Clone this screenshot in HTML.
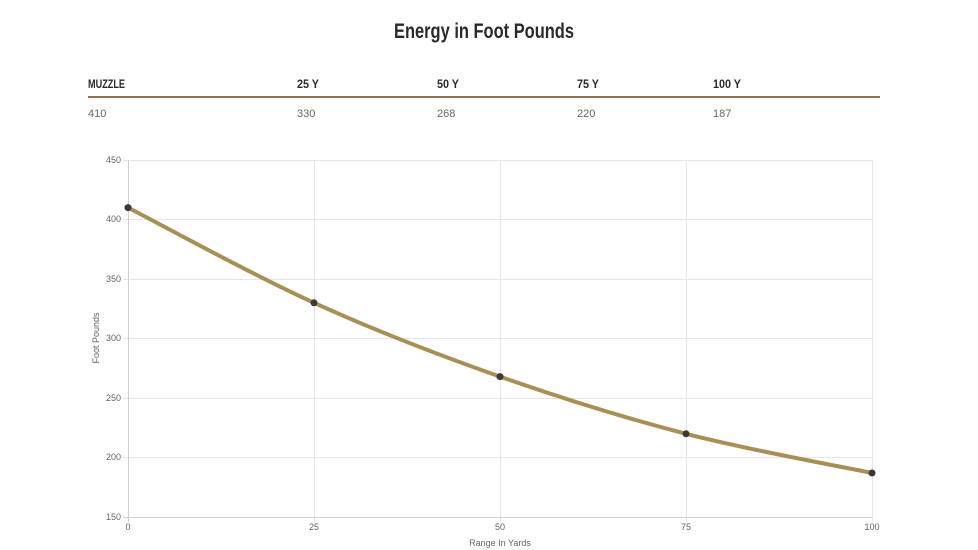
<!DOCTYPE html>
<html><head><meta charset="utf-8"><style>
html,body{margin:0;padding:0;background:#fff;}
svg{display:block;font-family:"Liberation Sans",sans-serif;}
</style></head><body>
<svg width="978" height="550" viewBox="0 0 978 550" xmlns="http://www.w3.org/2000/svg">
<text x="484" y="38" text-anchor="middle" font-size="21" font-weight="bold" fill="#2a2a2a" textLength="180" lengthAdjust="spacingAndGlyphs" font-family="Liberation Sans Narrow, Liberation Sans, sans-serif">Energy in Foot Pounds</text>
<g font-size="12" font-weight="bold" fill="#2a2a2a" font-family="Liberation Sans Narrow, Liberation Sans, sans-serif">
<text x="88" y="88" textLength="37" lengthAdjust="spacingAndGlyphs">MUZZLE</text>
<text x="297" y="88" textLength="22" lengthAdjust="spacingAndGlyphs">25 Y</text>
<text x="437" y="88" textLength="22" lengthAdjust="spacingAndGlyphs">50 Y</text>
<text x="577" y="88" textLength="22" lengthAdjust="spacingAndGlyphs">75 Y</text>
<text x="713" y="88" textLength="28" lengthAdjust="spacingAndGlyphs">100 Y</text>
</g>
<rect x="88" y="96" width="792" height="2" fill="#8b7550"/>
<g font-size="11" fill="#666">
<text x="88" y="117">410</text>
<text x="297" y="117">330</text>
<text x="437" y="117">268</text>
<text x="577" y="117">220</text>
<text x="713" y="117">187</text>
</g>
<g stroke="#e6e6e6" stroke-width="1">
<line x1="123" y1="160.5" x2="872" y2="160.5"/>
<line x1="123" y1="219.5" x2="872" y2="219.5"/>
<line x1="123" y1="279.5" x2="872" y2="279.5"/>
<line x1="123" y1="338.5" x2="872" y2="338.5"/>
<line x1="123" y1="398.5" x2="872" y2="398.5"/>
<line x1="123" y1="457.5" x2="872" y2="457.5"/>
<line x1="314.5" y1="160" x2="314.5" y2="522"/>
<line x1="500.5" y1="160" x2="500.5" y2="522"/>
<line x1="686.5" y1="160" x2="686.5" y2="522"/>
<line x1="872.5" y1="160" x2="872.5" y2="522"/>
</g>
<g stroke="#d0d0d0" stroke-width="1">
<line x1="128.5" y1="160" x2="128.5" y2="522"/>
<line x1="123" y1="517.5" x2="872" y2="517.5"/>
</g>
<g font-size="9" fill="#666" text-anchor="end">
<text x="121" y="163">450</text>
<text x="121" y="222">400</text>
<text x="121" y="282">350</text>
<text x="121" y="341">300</text>
<text x="121" y="401">250</text>
<text x="121" y="460">200</text>
<text x="121" y="520">150</text>
</g>
<g font-size="9" fill="#666" text-anchor="middle">
<text x="128" y="530">0</text>
<text x="314" y="530">25</text>
<text x="500" y="530">50</text>
<text x="686" y="530">75</text>
<text x="872" y="530">100</text>
<text x="500" y="546">Range In Yards</text>
</g>
<text transform="translate(99,338) rotate(-90)" font-size="9" fill="#666" text-anchor="middle">Foot Pounds</text>
<path d="M128,207.6 C159,223.5 252,274.6 314,302.8 C376,331 438,354.8 500,376.6 C562,398.4 624,417.7 686,433.8 C748,449.9 841,466.5 872,473" fill="none" stroke="#a88f55" stroke-width="4"/>
<g fill="#3d3a33">
<circle cx="128" cy="207.6" r="3.5"/>
<circle cx="314" cy="302.8" r="3.5"/>
<circle cx="500" cy="376.6" r="3.5"/>
<circle cx="686" cy="433.8" r="3.5"/>
<circle cx="872" cy="473" r="3.5"/>
</g>
</svg>
</body></html>
